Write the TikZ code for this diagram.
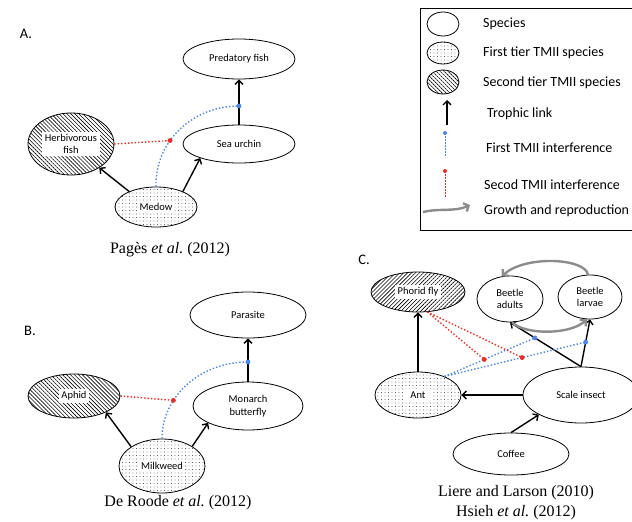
\documentclass[tikz,border=0pt]{standalone}
\usepackage{fontspec}
\setmainfont{Carlito}
\newfontfamily\capfont{Liberation Serif}
\usetikzlibrary{shapes.geometric,patterns,patterns.meta,arrows.meta}
\definecolor{ibl}{HTML}{4A86F0}
\definecolor{ird}{HTML}{F02A1E}
\definecolor{grw}{HTML}{8C8C8C}
\begin{document}
\begin{tikzpicture}[x=1pt,y=-1pt,
  sp/.style={ellipse,draw,line width=0.8pt,inner sep=0pt,align=center,font=\fontsize{10.5}{12.5}\selectfont},
  spdot/.style={sp,pattern={Dots[distance=3.5pt,radius=0.35pt]}},
  spnw/.style={sp,pattern={Lines[angle=-45,distance=2.8pt,line width=0.6pt]}},
  spne/.style={sp,pattern={Lines[angle=45,distance=2.8pt,line width=0.6pt]}},
  lab/.style={fill=white,inner sep=2.5pt,align=center,font=\fontsize{10.5}{12.5}\selectfont},
  tro/.style={line width=1.4pt,-{Straight Barb[length=4pt,width=8pt]}},
  blu/.style={ibl,dotted,line width=1.4pt},
  rdl/.style={ird,dotted,line width=1.4pt},
  bdot/.style={fill=ibl},
  rdot/.style={fill=ird},
  growarrow/.style={grw,line width=2.4pt,-{Straight Barb[length=4pt,width=9pt]}},
  leg/.style={anchor=west,font=\fontsize{14}{16}\selectfont,inner sep=0pt},
  captxt/.style={font=\capfont\fontsize{16}{18}\selectfont,inner sep=0pt},
  plab/.style={font=\fontsize{14.5}{16}\selectfont,inner sep=0pt}
]
\useasboundingbox (0,0) rectangle (632,522);

% ---------------- Panel A ----------------
\node[plab] (labA) at (26,34) {A.};
\node[sp,minimum width=112pt,minimum height=40pt] (pf) at (239,59) {Predatory fish};
\node[sp,minimum width=112pt,minimum height=38pt] (su) at (239,144) {Sea urchin};
\node[spnw,minimum width=86pt,minimum height=62pt] (hf) at (71,144) {};
\node[lab] (hft) at (hf) {Herbivorous\\fish};
\node[spdot,minimum width=82pt,minimum height=40pt] (me) at (156,207) {};
\node[lab] (met) at (me) {Medow};
\draw[tro] (me.150) -- (hf.320);
\draw[tro] (me.30) -- (su.200);
\draw[tro] (su.north) -- (pf.south);
\coordinate (bdA) at (239,106);
\draw[blu] (me.north) .. controls (155,141) and (193,106) .. coordinate[pos=0.38] (rdA) (bdA);
\draw[rdl] (hf.east) -- (rdA);
\fill[bdot] (bdA) circle (2.4pt);
\fill[rdot] (rdA) circle (2.4pt);
\node[captxt] (capA) at (170,250) {Pagès \textit{et al.}\ (2012)};

% ---------------- Panel B ----------------
\node[plab] (labB) at (30,331) {B.};
\node[sp,minimum width=116pt,minimum height=46pt] (pa) at (248,315) {Parasite};
\node[sp,minimum width=110pt,minimum height=48pt] (mb) at (248,406) {Monarch\\butterfly};
\node[spnw,minimum width=92pt,minimum height=44pt] (ap) at (74,396) {};
\node[lab] (apt) at (ap) {Aphid};
\node[spdot,minimum width=86pt,minimum height=54pt] (mw) at (162,466) {};
\node[lab] (mwt) at (mw) {Milkweed};
\draw[tro] (mw.148) -- (ap.333);
\draw[tro] (mw.33) -- (mb.203);
\draw[tro] (mb.north) -- (pa.south);
\coordinate (bdB) at (248,362);
\draw[blu] (mw.north) .. controls (162,396.5) and (200,362) .. coordinate[pos=0.33] (rdB) (bdB);
\draw[rdl] (ap.east) -- (rdB);
\fill[bdot] (bdB) circle (2.4pt);
\fill[rdot] (rdB) circle (2.4pt);
\node[captxt] (capB) at (178,503) {De Roode \textit{et al.}\ (2012)};

% ---------------- Panel C ----------------
\node[plab] (labC) at (364,260) {C.};
\node[spne,minimum width=94pt,minimum height=40pt] (ph) at (418,292) {};
\node[lab] (pht) at (ph) {Phorid fly};
\node[sp,minimum width=66pt,minimum height=46pt] (ba) at (510,299) {Beetle\\adults};
\node[sp,minimum width=64pt,minimum height=44pt] (bl) at (590,297) {Beetle\\larvae};
\node[spdot,minimum width=86pt,minimum height=46pt] (ant) at (418,395) {};
\node[lab,inner xsep=7pt] (antt) at (ant) {Ant};
\node[sp,minimum width=116pt,minimum height=56pt] (si) at (581,395) {Scale insect};
\node[sp,minimum width=116pt,minimum height=42pt] (co) at (511,454) {Coffee};
\draw[tro] (co.north) -- (si.205);
\draw[tro] (si.west) -- (ant.east);
\draw[tro] (ant.north) -- (ph.south);
\draw[tro] (si.north) -- coordinate[pos=0.65] (bd1) (ba.south);
\draw[tro] (si.north) -- coordinate[pos=0.52] (bd2) (bl.south);
\draw[blu] (ant.35) -- coordinate[pos=0.44] (rd1) (bd1);
\draw[blu] (ant.35) -- coordinate[pos=0.55] (rd2) (bd2);
\draw[rdl] (ph.295) -- (rd1);
\draw[rdl] (ph.295) -- (rd2);
\fill[bdot] (bd1) circle (2.4pt);
\fill[bdot] (bd2) circle (2.4pt);
\fill[rdot] (rd1) circle (2.4pt);
\fill[rdot] (rd2) circle (2.4pt);
\draw[growarrow] (ba.275) .. controls (525,335) and (570,335) .. (bl.262);
\draw[growarrow] (bl.95) .. controls (585,258) and (525,255) .. (ba.110);
\node[captxt] (capC1) at (516,493) {Liere and Larson (2010)};
\node[captxt] (capC2) at (516,513) {Hsieh \textit{et al.}\ (2012)};

% ---------------- Legend ----------------
\draw[line width=0.6pt] (420,8) rectangle (645,230);
\node[sp,minimum width=32pt,minimum height=24pt] (l1) at (443,24) {};
\node[spdot,minimum width=32pt,minimum height=22pt] (l2) at (443,53) {};
\node[spnw,minimum width=32pt,minimum height=24pt] (l3) at (443,82) {};
\node[leg] (t1) at (483,24) {Species};
\node[leg] (t2) at (483,53) {First tier TMII species};
\node[leg] (t3) at (483,83) {Second tier TMII species};
\node[leg] (t4) at (487,114) {Trophic link};
\node[leg] (t5) at (486,148) {First TMII interference};
\node[leg] (t6) at (484,185) {Secod TMII interference};
\node[leg] (t7) at (484,211) {Growth and reproduction};
\coordinate (lt1) at (447,125);
\coordinate (lt2) at (447,100);
\draw[tro] (lt1) -- (lt2);
\coordinate (lb1) at (445,133);
\coordinate (lb2) at (445,157);
\draw[ibl,line width=0.7pt,dash pattern=on 2pt off 1pt] (lb1) -- (lb2);
\fill[bdot] (lb1) circle (2pt);
\coordinate (lr1) at (445,171);
\coordinate (lr2) at (445,197);
\draw[ird,line width=0.7pt,dash pattern=on 2pt off 1pt] (lr1) -- (lr2);
\fill[rdot] (lr1) circle (2pt);
\coordinate (lg1) at (423,212);
\coordinate (lg2) at (470,205);
\draw[growarrow] (lg1) .. controls (440,208) and (455,212) .. (lg2);
\end{tikzpicture}
\end{document}
